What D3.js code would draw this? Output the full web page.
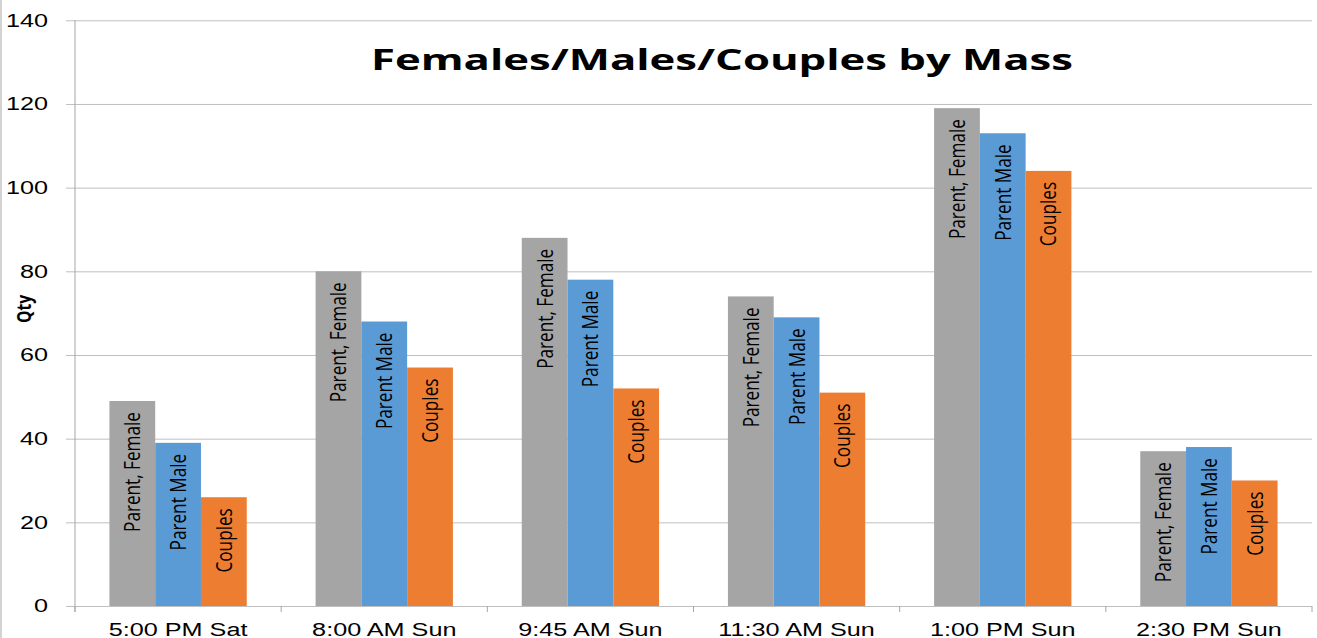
<!DOCTYPE html>
<html>
<head>
<meta charset="utf-8">
<script src="https://cdn.jsdelivr.net/npm/d3@7"></script>
<style>
  body { margin: 0; background: #fff; }
  svg { display: block; font-family: 'Open Sans', sans-serif; }
</style>
</head>
<body>
<svg></svg>
<script>
// DATA ////////////////////////////////////////////////////////////////////////
const categories = ['5:00 PM Sat', '8:00 AM Sun', '9:45 AM Sun', '11:30 AM Sun', '1:00 PM Sun', '2:30 PM Sun'];
const series = ['Parent, Female', 'Parent Male', 'Couples'];
const female = [49, 80, 88, 74, 119, 37];
const male = [39, 68, 78, 69, 113, 38];
const couples = [26, 57, 52, 51, 104, 30];
const yTicks = [0, 20, 40, 60, 80, 100, 120, 140];
const title = 'Females/Males/Couples by Mass';
const yTitle = 'Qty';

// SET PARAMETERS //////////////////////////////////////////////////////////////
const svg = d3.select('svg').attr('width', 1317).attr('height', 638);
const plotLeft = 75, plotRight = 1312, plotTop = 20.3, plotBottom = 606;
const colors = ['#a5a5a5', '#5b9bd5', '#ed7d31'];
const values = [female, male, couples];

// the source is horizontally stretched, so widen/squeeze glyphs to match
function stretch(sel, k) {
  sel.each(function () {
    const len = this.getComputedTextLength();
    d3.select(this).attr('textLength', len * k).attr('lengthAdjust', 'spacingAndGlyphs');
  });
}

const rows = categories.map((c, i) => ({
  cat: c,
  bars: series.map((s, j) => ({ cat: c, name: s, value: values[j][i], color: colors[j] }))
}));

// scales
const x = d3.scaleBand().domain(categories).range([plotLeft, plotRight]).paddingInner(0.334).paddingOuter(0.167);
const xs = d3.scaleBand().domain(series).range([0, x.bandwidth()]);
const y = d3.scaleLinear().domain([0, 140]).range([plotBottom, plotTop]);

// outer border on the left edge
svg.append('line')
  .attr('x1', 1).attr('x2', 1).attr('y1', 0).attr('y2', 638)
  .attr('stroke', '#a6a6a6');

// DRAW ///////////////////////////////////////////////////////////////////////
// gridlines
svg.append('g')
  .attr('transform', `translate(${plotLeft},0)`)
  .call(d3.axisLeft(y).tickValues(yTicks).tickSize(-(plotRight - plotLeft)).tickFormat(''))
  .call(g => g.select('.domain').remove())
  .call(g => g.selectAll('line').attr('stroke', '#bfbfbf'));

// y axis ticks + labels
const yAxis = svg.append('g')
  .attr('transform', `translate(${plotLeft},0)`)
  .call(d3.axisLeft(y).tickValues(yTicks).tickSize(9).tickPadding(18))
  .call(g => g.select('.domain').remove())
  .call(g => g.selectAll('line').attr('stroke', '#bfbfbf'));
yAxis.selectAll('text')
  .attr('fill', '#000')
  .style('font-size', '18px');
stretch(yAxis.selectAll('text'), 1.4);

// y axis line
svg.append('line')
  .attr('x1', plotLeft).attr('x2', plotLeft).attr('y1', plotTop).attr('y2', plotBottom + 6)
  .attr('stroke', '#a6a6a6');

// category boundary ticks
const bounds = categories.map(c => x(c) - (x.step() - x.bandwidth()) / 2).concat([plotRight]);
svg.append('g').selectAll('line')
  .data(bounds)
  .join('line')
  .attr('x1', d => d).attr('x2', d => d)
  .attr('y1', plotBottom).attr('y2', plotBottom + 6)
  .attr('stroke', '#a6a6a6');

// x axis labels
const xAxis = svg.append('g')
  .attr('transform', `translate(0,${plotBottom})`)
  .call(d3.axisBottom(x).tickSize(0))
  .call(g => g.select('.domain').remove());
xAxis.selectAll('text')
  .attr('y', 30).attr('dy', 0)
  .attr('fill', '#000')
  .style('font-size', '18px');
stretch(xAxis.selectAll('text'), 1.4);

// bars
const groups = svg.append('g').selectAll('g')
  .data(rows)
  .join('g')
  .attr('transform', d => `translate(${x(d.cat)},0)`);

groups.selectAll('rect')
  .data(d => d.bars)
  .join('rect')
  .attr('x', d => xs(d.name))
  .attr('y', d => y(d.value))
  .attr('width', xs.bandwidth())
  .attr('height', d => y(0) - y(d.value))
  .attr('fill', d => d.color);

// bar labels, rotated, hanging from the top of each bar
const labels = groups.selectAll('text')
  .data(d => d.bars)
  .join('text')
  .attr('transform', d => `translate(${xs(d.name) + xs.bandwidth() / 2},${y(d.value) + 11}) rotate(-90)`)
  .attr('text-anchor', 'end')
  .attr('dy', '0.36em')
  .attr('fill', '#000')
  .style('font-size', '22px')
  .text(d => d.name);
stretch(labels, 0.78);

// y title
const yt = svg.append('text')
  .attr('transform', 'translate(31,309) rotate(-90)')
  .attr('text-anchor', 'middle')
  .attr('fill', '#000')
  .style('font-size', '20px')
  .style('font-weight', 'bold')
  .text(yTitle);
stretch(yt, 0.78);

// chart title
const tt = svg.append('text')
  .attr('x', 722).attr('y', 70)
  .attr('text-anchor', 'middle')
  .attr('fill', '#000')
  .style('font-size', '29px')
  .style('font-weight', 'bold')
  .text(title);
tt.attr('textLength', 702).attr('lengthAdjust', 'spacingAndGlyphs');
</script>
</body>
</html>
